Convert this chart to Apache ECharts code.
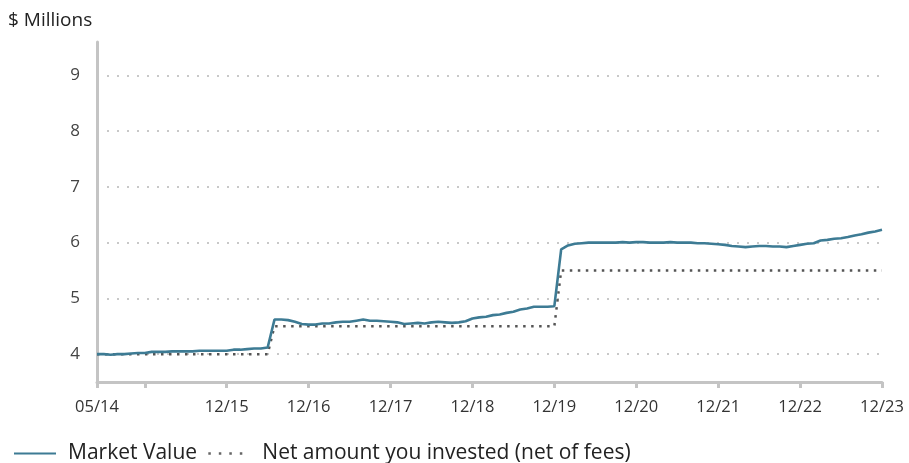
<!DOCTYPE html>
<html>
<head>
<meta charset="utf-8">
<script src="https://cdn.jsdelivr.net/npm/echarts@6/dist/echarts.min.js"></script>
<style>html,body{margin:0;padding:0;background:#fff}#c{width:909px;height:463px}</style>
</head>
<body>
<div id="c"></div>
<script>
// months since 05/14
const tickMonths = [0, 7, 19, 31, 43, 55, 67, 79, 91, 103, 115];
const labelMonths = [0, 19, 31, 43, 55, 67, 79, 91, 103, 115];
const labelText = ['05/14', '12/15', '12/16', '12/17', '12/18', '12/19', '12/20', '12/21', '12/22', '12/23'];
const yTicks = [4, 5, 6, 7, 8, 9];

const marketValue = [
  4.00, 4.00, 3.99, 4.00, 4.00, 4.01, 4.02, 4.02, 4.04, 4.04,
  4.04, 4.05, 4.05, 4.05, 4.05, 4.06, 4.06, 4.06, 4.06, 4.06,
  4.08, 4.08, 4.09, 4.10, 4.10, 4.12, 4.62, 4.62, 4.61, 4.58,
  4.54, 4.53, 4.53, 4.55, 4.55, 4.57, 4.58, 4.58, 4.60, 4.62,
  4.60, 4.60, 4.59, 4.58, 4.57, 4.54, 4.55, 4.56, 4.55, 4.57,
  4.58, 4.57, 4.56, 4.57, 4.59, 4.64, 4.66, 4.67, 4.70, 4.71,
  4.74, 4.76, 4.80, 4.82, 4.85, 4.85, 4.85, 4.86, 5.88, 5.95,
  5.98, 5.99, 6.00, 6.00, 6.00, 6.00, 6.00, 6.01, 6.00, 6.01,
  6.01, 6.00, 6.00, 6.00, 6.01, 6.00, 6.00, 6.00, 5.99, 5.99,
  5.98, 5.97, 5.96, 5.94, 5.93, 5.92, 5.93, 5.94, 5.94, 5.93,
  5.93, 5.92, 5.94, 5.96, 5.98, 5.99, 6.04, 6.05, 6.07, 6.08,
  6.10, 6.13, 6.15, 6.18, 6.20, 6.23
];
const netInvested = [];
for (let m = 0; m < marketValue.length; m++) {
  netInvested.push(m <= 25 ? 4.0 : (m <= 67 ? 4.5 : 5.5));
}

const mvData = marketValue.map((v, i) => [i, v]);
const niData = netInvested.map((v, i) => [i, v]);

const chart = echarts.init(document.getElementById('c'));
const font = '"Open Sans", "Noto Sans", sans-serif';
chart.setOption({
  animation: false,
  textStyle: { fontFamily: font },
  title: {
    text: '$ Millions', left: 3, top: 6,
    textStyle: { fontSize: 19, fontWeight: 'normal', color: '#222', fontFamily: font }
  },
  legend: {
    left: 8, bottom: -6,
    itemWidth: 42, itemHeight: 12, itemGap: 10,
    itemStyle: { color: 'transparent', borderColor: 'transparent', borderWidth: 0 },
    textStyle: { fontSize: 21, color: '#222', fontFamily: font, padding: [0, 0, 0, 7] },
    data: [
      { name: 'Market Value' },
      { name: 'Net amount you invested (net of fees)', lineStyle: { type: [2.5, 8], width: 2.5, color: '#666' } }
    ]
  },
  grid: { left: 97, right: 27, top: 42, bottom: 81, containLabel: false },
  xAxis: {
    type: 'value', min: 0, max: 115,
    axisLine: { show: true, lineStyle: { color: '#c4c4c4', width: 3 } },
    axisTick: { show: true, customValues: tickMonths, length: 6, lineStyle: { color: '#c4c4c4', width: 3 } },
    axisLabel: {
      customValues: labelMonths, margin: 17, fontSize: 16.5, color: '#333', fontFamily: font,
      formatter: v => { const i = labelMonths.indexOf(v); return i >= 0 ? labelText[i] : ''; }
    },
    splitLine: { show: false }
  },
  yAxis: {
    type: 'value', min: 3.5, max: 9.6,
    axisLine: { show: true, lineStyle: { color: '#c4c4c4', width: 3 } },
    axisTick: { show: false, customValues: yTicks },
    axisLabel: { customValues: yTicks, margin: 17, fontSize: 17, color: '#444', fontFamily: font },
    splitLine: { show: true, lineStyle: { color: '#c8c8c8', width: 2, type: [2, 8] } }
  },
  series: [
    {
      name: 'Market Value', type: 'line', data: mvData, symbol: 'none', z: 3,
      lineStyle: { color: '#3d7b94', width: 2.6 }, itemStyle: { color: '#3d7b94' }
    },
    {
      name: 'Net amount you invested (net of fees)', type: 'line', data: niData, symbol: 'none', z: 2,
      lineStyle: { color: '#555', width: 2.5, type: [2.5, 5.5] }, itemStyle: { color: '#555' }
    }
  ]
});
</script>
</body>
</html>
